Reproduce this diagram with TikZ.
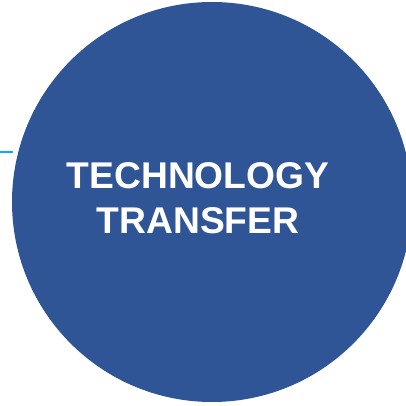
\documentclass[tikz,border=0pt]{standalone}
\usepackage{fontspec}
\setmainfont{Liberation Sans}
\definecolor{circblue}{HTML}{2F5597}
\definecolor{linecyan}{HTML}{00B0F0}
\begin{document}
\begin{tikzpicture}[x=1pt,y=1pt,
  disc/.style={circle, fill=circblue, minimum size=400pt, inner sep=0pt},
  title/.style={text=white, font=\bfseries\fontsize{37.2}{45}\selectfont, align=center}]
\useasboundingbox (0,0) rectangle (406,406);
\begin{scope}
\clip (0,0) rectangle (406,406);
\node[disc] (c) at (212,204) {};
\end{scope}
\coordinate (l0) at (0,254);
\coordinate (l1) at (13,254);
\draw[linecyan, line width=2pt] (l0) -- (l1);
\node[title] (t) at (198,208) {TECHNOLOGY\\TRANSFER};
\end{tikzpicture}
\end{document}
